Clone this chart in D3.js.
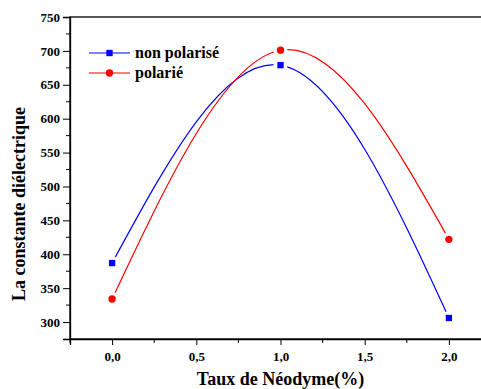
<!DOCTYPE html>
<html>
<head>
<meta charset="utf-8">
<script src="https://cdn.jsdelivr.net/npm/d3@7"></script>
<style>
  body { margin: 0; background: #fff; }
  svg { display: block; }
  text { font-family: "Liberation Serif", "Times New Roman", serif; font-weight: bold; }
</style>
</head>
<body>
<div class="container"></div>
<script>
// DATA
const taux = [0, 1, 2];
const nonPolarise = [387, 679, 306];
const polarise = [334, 701, 422];
const xTicks = [0, 0.5, 1, 1.5, 2];
const yTicks = [300, 350, 400, 450, 500, 550, 600, 650, 700, 750];
const seriesNames = ["non polarisé", "polarié"];

// SETUP
const W = 481, H = 389;
const margin = { top: 17, right: -10, bottom: 50, left: 70 };

const svg = d3.select("div.container")
  .append("svg")
  .attr("width", W)
  .attr("height", H);

const x = d3.scaleLinear().domain([-0.25, 2.25]).range([margin.left, W - margin.right]);
const y = d3.scaleLinear().domain([275, 750]).range([H - margin.bottom, margin.top]);

const fmt = d => d3.format(".1f")(d).replace(".", ",");

// frame (top + right)
svg.append("rect")
  .attr("x", x(-0.25)).attr("y", y(750))
  .attr("width", x(2.25) - x(-0.25)).attr("height", y(275) - y(750))
  .attr("fill", "none").attr("stroke", "#000").attr("stroke-width", 1.3);

// bottom axis
const xAxis = svg.append("g")
  .attr("transform", `translate(0,${y(275)})`)
  .call(d3.axisBottom(x).tickValues(xTicks).tickFormat(fmt).tickSize(6).tickPadding(7));
xAxis.append("g").selectAll("line")
  .data([-0.25, 0.25, 0.75, 1.25, 1.75])
  .join("line")
  .attr("x1", d => x(d)).attr("x2", d => x(d))
  .attr("y1", 0).attr("y2", 4)
  .attr("stroke", "#000");

// left axis
const yAxis = svg.append("g")
  .attr("transform", `translate(${x(-0.25)},0)`)
  .call(d3.axisLeft(y).tickValues(yTicks).tickSize(7).tickPadding(3));
yAxis.append("g").selectAll("line")
  .data(d3.range(325, 750, 50))
  .join("line")
  .attr("x1", 0).attr("x2", -4)
  .attr("y1", d => y(d)).attr("y2", d => y(d))
  .attr("stroke", "#000");

[xAxis, yAxis].forEach(a => {
  a.select(".domain").attr("stroke-width", 1.3);
  a.selectAll("text").attr("font-size", 13).attr("fill", "#000")
    .attr("font-family", "Liberation Serif, serif").attr("font-weight", "bold");
});

// axis titles
svg.append("text")
  .attr("x", x(1)).attr("y", 385)
  .attr("text-anchor", "middle")
  .attr("font-size", 18)
  .text("Taux de Néodyme(%)");

svg.append("text")
  .attr("transform", `translate(25,${(y(275) + y(750)) / 2 + 26}) rotate(-90)`)
  .attr("text-anchor", "middle")
  .attr("font-size", 18)
  .text("La constante diélectrique");

// series
const series = [
  { name: seriesNames[0], values: nonPolarise, color: "#0000ff", shape: "square" },
  { name: seriesNames[1], values: polarise, color: "#ff0000", shape: "circle" }
];

const line = d3.line()
  .x((d, i) => x(taux[i]))
  .y(d => y(d))
  .curve(d3.curveNatural);

const defs = svg.append("defs");

series.forEach((s, k) => {
  // gap around each symbol, like the original plotting program
  const mask = defs.append("mask").attr("id", "gap" + k);
  mask.append("rect").attr("width", W).attr("height", H).attr("fill", "#fff");
  mask.selectAll("circle")
    .data(s.values)
    .join("circle")
    .attr("cx", (d, i) => x(taux[i]))
    .attr("cy", d => y(d))
    .attr("r", 7)
    .attr("fill", "#000");

  svg.append("path")
    .datum(s.values)
    .attr("d", line)
    .attr("fill", "none")
    .attr("stroke", s.color)
    .attr("stroke-width", 1.2)
    .attr("mask", `url(#gap${k})`);

  const sym = d3.symbol().type(s.shape === "square" ? d3.symbolSquare : d3.symbolCircle).size(s.shape === "square" ? 40 : 42);
  svg.append("g").selectAll("path")
    .data(s.values)
    .join("path")
    .attr("transform", (d, i) => `translate(${x(taux[i])},${y(d)})`)
    .attr("d", sym)
    .attr("fill", s.color);
});

// legend
const legend = svg.append("g").attr("transform", "translate(89,53)");
series.forEach((s, k) => {
  const g = legend.append("g").attr("transform", `translate(0,${k * 20})`);
  g.append("line")
    .attr("x1", 0).attr("x2", 41)
    .attr("stroke", s.color).attr("stroke-width", 1.2);
  g.append("path")
    .attr("transform", "translate(20.5,0)")
    .attr("d", d3.symbol().type(s.shape === "square" ? d3.symbolSquare : d3.symbolCircle).size(s.shape === "square" ? 40 : 42))
    .attr("fill", s.color);
  g.append("text")
    .attr("x", 46).attr("y", 5)
    .attr("font-size", 16)
    .text(s.name);
});
</script>
</body>
</html>
